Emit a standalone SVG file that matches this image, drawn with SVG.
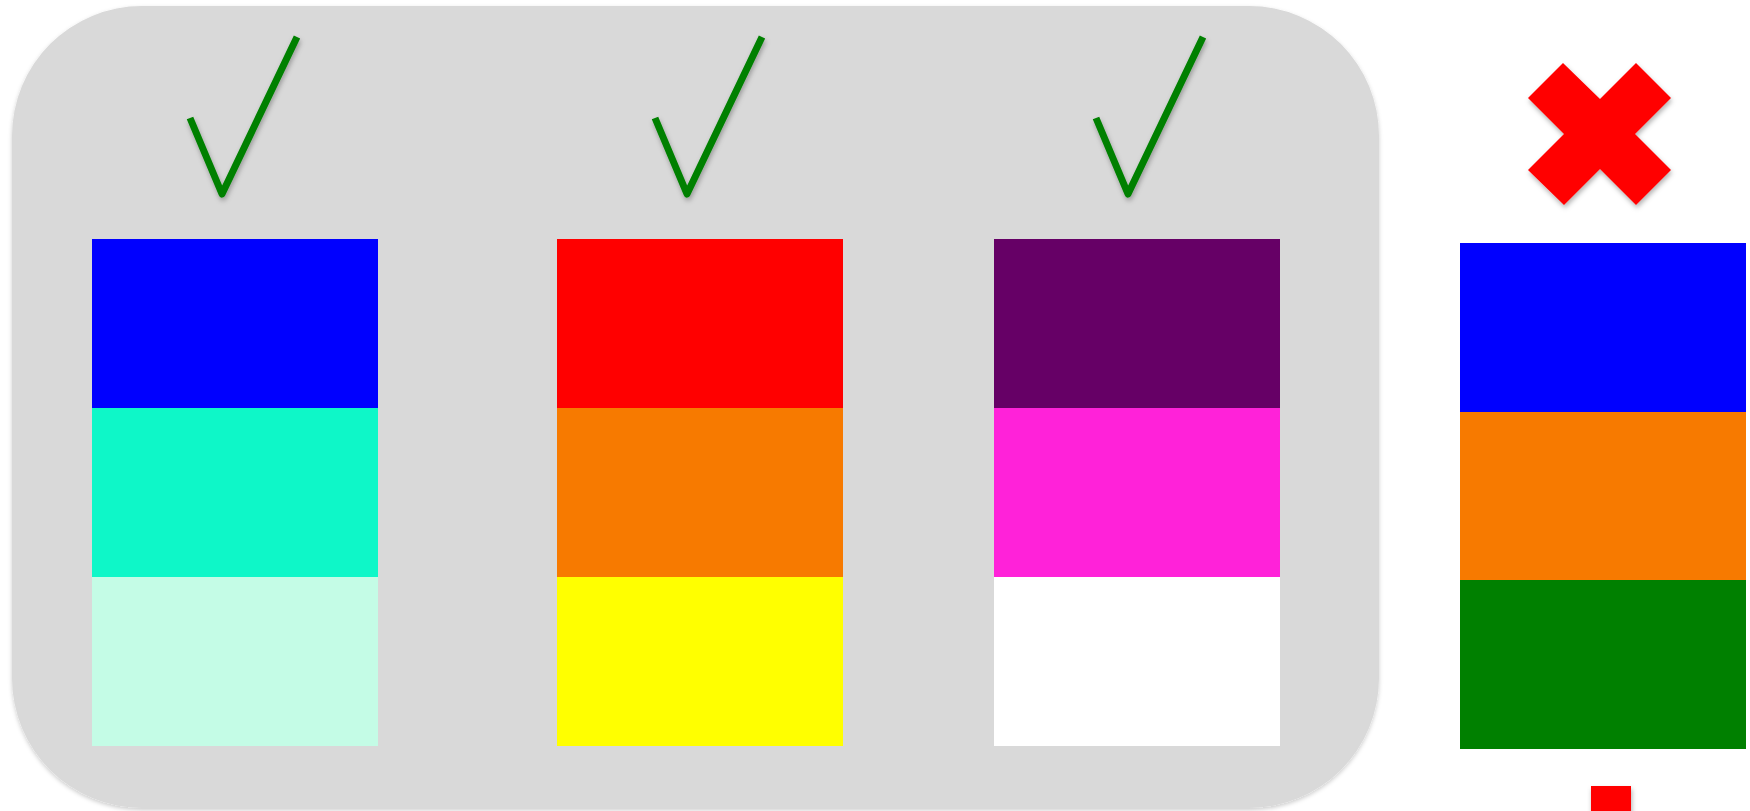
<svg xmlns="http://www.w3.org/2000/svg" width="1750" height="811" viewBox="0 0 1750 811">
<defs>
<filter id="sh" x="-10%" y="-10%" width="130%" height="130%">
<feDropShadow dx="1" dy="3" stdDeviation="2.5" flood-color="#000" flood-opacity="0.3"/>
</filter>
<filter id="sh2" x="-5%" y="-5%" width="110%" height="110%">
<feDropShadow dx="0" dy="2" stdDeviation="2" flood-color="#000" flood-opacity="0.2"/>
</filter>
</defs>
<style>
.chk{fill:none;stroke:#008000;stroke-width:7;stroke-linejoin:round;stroke-linecap:butt;filter:url(#sh)}
</style>
<rect width="1750" height="811" fill="#fff"/>
<g id="group-box">
<rect x="12" y="6" width="1367" height="802" rx="130" ry="130" fill="#d9d9d9" filter="url(#sh2)"/>
</g>
<g id="check1"><polyline class="chk" points="190,118 222,194 297,37"/></g>
<g id="check2"><polyline class="chk" points="655,118 687,194 762,37"/></g>
<g id="check3"><polyline class="chk" points="1096,118 1128,194 1203,37"/></g>
<g id="cross">
<polygon points="1563,63 1600,99 1636,63 1671,98 1635,134 1671,170 1636,205 1600,169 1564,205 1528,170 1564,134 1528,98" fill="#ff0000" filter="url(#sh)"/>
</g>
<g id="column1">
<rect x="92" y="239" width="286" height="169" fill="#0000ff"/>
<rect x="92" y="408" width="286" height="169" fill="#0ef7c8"/>
<rect x="92" y="577" width="286" height="169" fill="#c4fce6"/>
</g>
<g id="column2">
<rect x="557" y="239" width="286" height="169" fill="#ff0000"/>
<rect x="557" y="408" width="286" height="169" fill="#f77a00"/>
<rect x="557" y="577" width="286" height="169" fill="#ffff00"/>
</g>
<g id="column3">
<rect x="994" y="239" width="286" height="169" fill="#660066"/>
<rect x="994" y="408" width="286" height="169" fill="#ff22d9"/>
<rect x="994" y="577" width="286" height="169" fill="#ffffff"/>
</g>
<g id="column4">
<rect x="1460" y="243" width="286" height="169" fill="#0000ff"/>
<rect x="1460" y="412" width="286" height="168" fill="#f77a00"/>
<rect x="1460" y="580" width="286" height="169" fill="#008000"/>
</g>
<g id="small-red">
<rect x="1591" y="786" width="40" height="30" fill="#ff0000" filter="url(#sh)"/>
</g>
<g id="connectors"/>
</svg>
